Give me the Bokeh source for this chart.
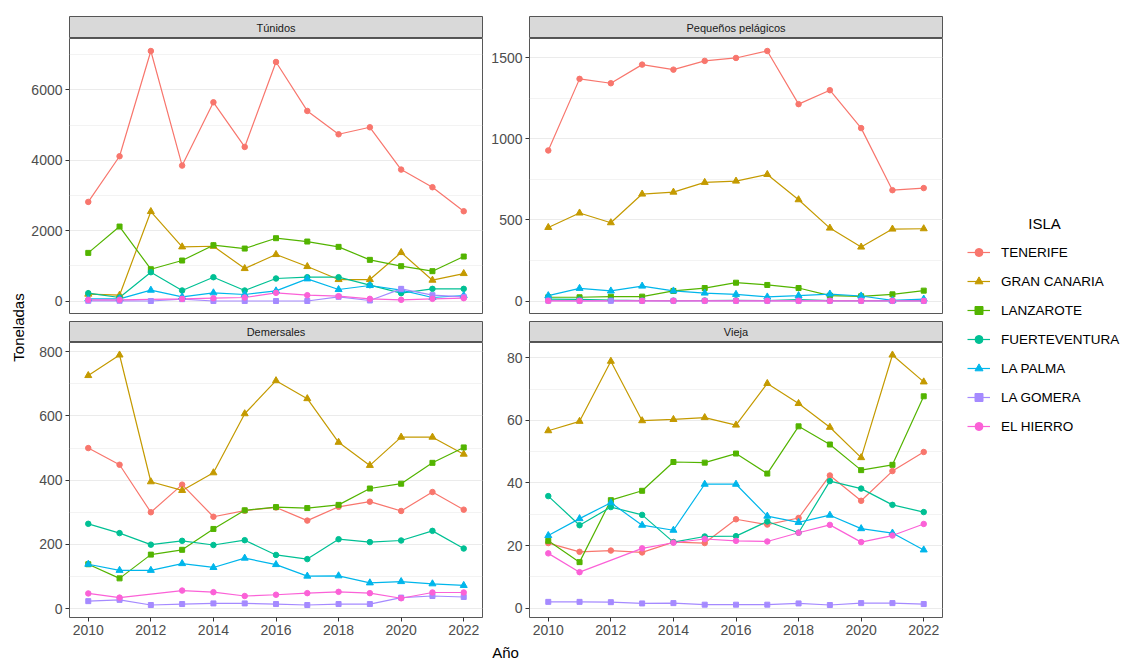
import math
from bokeh.plotting import figure
from bokeh.models import Range1d, FixedTicker, Legend, LegendItem
from bokeh.layouts import row, column
from bokeh.embed import file_html
from bokeh.resources import INLINE
from bokeh.core.properties import value

# ---------------- data ----------------
YEARS = [2010, 2011, 2012, 2013, 2014, 2015, 2016, 2017, 2018, 2019, 2020, 2021, 2022]
YEARS_HIERRO = [2010, 2011, 2013, 2014, 2015, 2016, 2017, 2018, 2019, 2020, 2021, 2022]

ISLANDS = ["TENERIFE", "GRAN CANARIA", "LANZAROTE", "FUERTEVENTURA",
           "LA PALMA", "LA GOMERA", "EL HIERRO"]
COLORS = ["#F8766D", "#C49A00", "#53B400", "#00C094", "#00B6EB", "#A58AFF", "#FB61D7"]
MARKERS = ["circle", "triangle", "square", "circle", "triangle", "square", "circle"]

TITLES = ["Túnidos", "Pequeños pelágicos", "Demersales", "Vieja"]
X_TICKS = [2010, 2012, 2014, 2016, 2018, 2020, 2022]

TUNIDOS = {
    "TENERIFE":      [2820, 4117, 7107, 3852, 5650, 4382, 6795, 5404, 4741, 4940, 3738, 3237, 2555],
    "GRAN CANARIA":  [200, 170, 2546, 1543, 1560, 927, 1325, 984, 615, 615, 1382, 596, 785],
    "LANZAROTE":     [1372, 2120, 908, 1155, 1590, 1495, 1789, 1694, 1543, 1174, 994, 852, 1268],
    "FUERTEVENTURA": [227, 104, 823, 303, 681, 303, 644, 681, 681, 454, 227, 350, 350],
    "LA PALMA":      [66, 66, 312, 123, 237, 189, 293, 634, 331, 445, 312, 104, 161],
    "LA GOMERA":     [10, 10, 5, 57, 5, 5, 5, 5, 123, 19, 350, 170, 123],
    "EL HIERRO":     [38, 38, 66, 85, 104, 237, 170, 142, 66, 38, 66, 85],
}
PEQUENOS = {
    "TENERIFE":      [929, 1371, 1344, 1459, 1428, 1482, 1500, 1543, 1215, 1301, 1067, 684, 697],
    "GRAN CANARIA":  [454, 543, 483, 660, 672, 732, 740, 781, 625, 450, 333, 444, 446],
    "LANZAROTE":     [23, 23, 27, 27, 62, 80, 113, 99, 80, 33, 29, 41, 64],
    "FUERTEVENTURA": [12, 10, 5, 3, 2, 3, 4, 3, 8, 2, 3, 2, 2],
    "LA PALMA":      [33, 78, 62, 92, 62, 49, 41, 25, 33, 43, 31, 4, 12],
    "LA GOMERA":     [2, 1, 1, 1, 1, 1, 1, 1, 1, 1, 1, 0, 0],
    "EL HIERRO":     [1, 1, 1, 1, 1, 1, 1, 1, 1, 1, 1, 1],
}
DEMERSALES = {
    "TENERIFE":      [500, 448, 300, 386, 286, 305, 315, 274, 317, 333, 304, 363, 308],
    "GRAN CANARIA":  [726, 790, 395, 368, 423, 607, 710, 654, 518, 446, 534, 534, 481],
    "LANZAROTE":     [138, 94, 168, 183, 248, 306, 316, 313, 323, 374, 389, 454, 502],
    "FUERTEVENTURA": [264, 235, 199, 211, 198, 213, 167, 154, 216, 207, 212, 242, 187],
    "LA PALMA":      [138, 119, 119, 140, 128, 157, 137, 101, 102, 80, 84, 77, 72],
    "LA GOMERA":     [23, 27, 11, 14, 16, 16, 14, 11, 14, 14, 34, 39, 36],
    "EL HIERRO":     [47, 34, 56, 51, 39, 43, 48, 52, 48, 32, 50, 50],
}
VIEJA = {
    "TENERIFE":      [20.8, 18.0, 18.4, 17.8, 21.1, 20.8, 28.4, 26.7, 28.8, 42.4, 34.3, 43.8, 49.9],
    "GRAN CANARIA":  [56.7, 59.7, 78.9, 59.9, 60.3, 60.9, 58.5, 71.8, 65.4, 57.8, 48.1, 80.9, 72.3],
    "LANZAROTE":     [21.5, 14.7, 34.5, 37.5, 46.7, 46.5, 49.4, 43.0, 58.1, 52.3, 44.1, 45.8, 67.7],
    "FUERTEVENTURA": [35.8, 26.5, 32.3, 29.8, 21.1, 22.9, 23.0, 27.7, 24.1, 40.6, 38.2, 33.0, 30.7],
    "LA PALMA":      [23.2, 28.6, 33.7, 26.5, 24.9, 39.6, 39.6, 29.4, 27.4, 29.7, 25.4, 24.0, 18.6],
    "LA GOMERA":     [2.0, 2.0, 1.9, 1.5, 1.6, 1.1, 1.1, 1.1, 1.5, 1.0, 1.6, 1.6, 1.3],
    "EL HIERRO":     [17.5, 11.5, 19.1, 20.9, 22.1, 21.5, 21.3, 24.1, 26.6, 21.1, 23.2, 26.9],
}

Y_TICKS = [[0, 2000, 4000, 6000], [0, 500, 1000, 1500],
           [0, 200, 400, 600, 800], [0, 20, 40, 60, 80]]
Y_MINOR = [[1000, 3000, 5000, 7000], [250, 750, 1250],
           [100, 300, 500, 700], [10, 30, 50, 70]]

FONT = "Liberation Sans"
FRAME_W = 413
FRAME_H = 275
MARKER_SIZE = {"circle": 5.5, "triangle": 7, "square": 5}
BORDER = "#444444"


def hide_grids(f):
    for g in f.grid:
        g.visible = False


def make_panel(data, ticks, minor, left, right, bottom_axis, bottom_border):
    allv = [v for k in ISLANDS for v in data[k]]
    lo, hi = min(allv), max(allv)
    pad = 0.05 * (hi - lo)
    p = figure(frame_width=FRAME_W, frame_height=FRAME_H,
               x_range=Range1d(2009.4, 2022.6), y_range=Range1d(lo - pad, hi + pad),
               x_axis_location="below" if bottom_axis else None,
               toolbar_location=None, output_backend="svg",
               min_border_left=left, min_border_right=right,
               min_border_top=0, min_border_bottom=bottom_border)
    p.background_fill_color = "white"
    p.border_fill_color = "white"
    p.outline_line_color = BORDER
    p.outline_line_width = 0.9
    p.yaxis.ticker = FixedTicker(ticks=ticks, minor_ticks=minor)
    if bottom_axis:
        p.xaxis.ticker = FixedTicker(ticks=X_TICKS)
    for ax in p.axis:
        ax.axis_line_color = None
        ax.major_tick_line_color = "#333333"
        ax.major_tick_out = 4
        ax.major_tick_in = 0
        ax.minor_tick_line_color = None
        ax.major_label_text_font = FONT
        ax.major_label_text_font_size = "14px"
        ax.major_label_text_color = "#4D4D4D"
        ax.major_label_standoff = 3
    p.xgrid.grid_line_color = None
    p.ygrid.grid_line_color = "#EBEBEB"
    p.ygrid.grid_line_width = 1.2
    p.ygrid.minor_grid_line_color = "#EBEBEB"
    p.ygrid.minor_grid_line_width = 0.6

    for isl, col in zip(ISLANDS, COLORS):
        xs = YEARS_HIERRO if isl == "EL HIERRO" else YEARS
        p.line(xs, data[isl], line_color=col, line_width=1.2)
    for isl, col, mk in zip(ISLANDS, COLORS, MARKERS):
        xs = YEARS_HIERRO if isl == "EL HIERRO" else YEARS
        p.scatter(xs, data[isl], marker=mk, size=MARKER_SIZE[mk], fill_color=col, line_color=col)
    return p


def make_strip(title, left, right, top, h):
    s = figure(frame_width=FRAME_W, frame_height=h,
               x_range=Range1d(0, 1), y_range=Range1d(0, 1),
               x_axis_location=None, y_axis_location=None,
               toolbar_location=None, output_backend="svg",
               min_border_left=left, min_border_right=right,
               min_border_top=top, min_border_bottom=0)
    hide_grids(s)
    s.background_fill_color = "#D9D9D9"
    s.border_fill_color = "white"
    s.outline_line_color = BORDER
    s.outline_line_width = 0.9
    s.text(x=[0.5], y=[0.5], text=[title], text_align="center", text_baseline="middle",
           text_font=value(FONT), text_font_size="11px", text_color="#1A1A1A")
    return s


def blank(w, h):
    f = figure(width=w, height=h, x_range=Range1d(0, w), y_range=Range1d(h, 0),
               x_axis_location=None, y_axis_location=None, toolbar_location=None,
               output_backend="svg", min_border=0)
    hide_grids(f)
    f.outline_line_color = None
    f.background_fill_color = "white"
    f.border_fill_color = "white"
    return f


LEFT_L, LEFT_R = 40, 5
RIGHT_L, RIGHT_R = 42, 9
TOTAL_H = 661

strip_tl = make_strip(TITLES[0], LEFT_L, LEFT_R, 16, 22)
strip_tr = make_strip(TITLES[1], RIGHT_L, RIGHT_R, 16, 22)
panel_tl = make_panel(TUNIDOS, Y_TICKS[0], Y_MINOR[0], LEFT_L, LEFT_R, False, 8)
panel_tr = make_panel(PEQUENOS, Y_TICKS[1], Y_MINOR[1], RIGHT_L, RIGHT_R, False, 8)
strip_bl = make_strip(TITLES[2], LEFT_L, LEFT_R, 0, 21)
strip_br = make_strip(TITLES[3], RIGHT_L, RIGHT_R, 0, 21)
panel_bl = make_panel(DEMERSALES, Y_TICKS[2], Y_MINOR[2], LEFT_L, LEFT_R, True, 25)
panel_br = make_panel(VIEJA, Y_TICKS[3], Y_MINOR[3], RIGHT_L, RIGHT_R, True, 25)

left_w = LEFT_L + FRAME_W + LEFT_R
right_w = RIGHT_L + FRAME_W + RIGHT_R

# x-axis title
xlab = blank(left_w + right_w, 19)
xlab.text(x=[477], y=[10], text=["Año"], text_align="center", text_baseline="middle",
          text_font=value(FONT), text_font_size="15px", text_color="black")

# y-axis title
ylab = blank(28, TOTAL_H)
ylab.text(x=[17.5], y=[327], text=["Toneladas"], angle=math.pi / 2,
          text_align="center", text_baseline="middle",
          text_font=value(FONT), text_font_size="15px", text_color="black")

# legend
leg = blank(174, TOTAL_H)
leg.text(x=[93], y=[223], text=["ISLA"], text_align="center", text_baseline="middle",
         text_font=value(FONT), text_font_size="15px", text_color="black")
items = []
for isl, col, mk in zip(ISLANDS, COLORS, MARKERS):
    rl = leg.line([float("nan")], [float("nan")], line_color=col, line_width=1.2)
    rp = leg.scatter([float("nan")], [float("nan")], marker=mk, size=MARKER_SIZE[mk],
                     fill_color=col, line_color=col)
    items.append(LegendItem(label=isl, renderers=[rl, rp]))
legend = Legend(items=items, location=(16, 225), orientation="vertical",
                glyph_width=23, glyph_height=20, label_height=20, spacing=9,
                label_standoff=11, padding=0, margin=0,
                border_line_color=None, background_fill_alpha=0,
                label_text_font=FONT, label_text_font_size="13.5px",
                label_text_color="black")
leg.add_layout(legend, "center")

left_col = column(strip_tl, panel_tl, strip_bl, panel_bl)
right_col = column(strip_tr, panel_tr, strip_br, panel_br)
middle = column(row(left_col, right_col), xlab)
layout = row(ylab, middle, leg)

open("out.html", "w").write(file_html(layout, INLINE))
